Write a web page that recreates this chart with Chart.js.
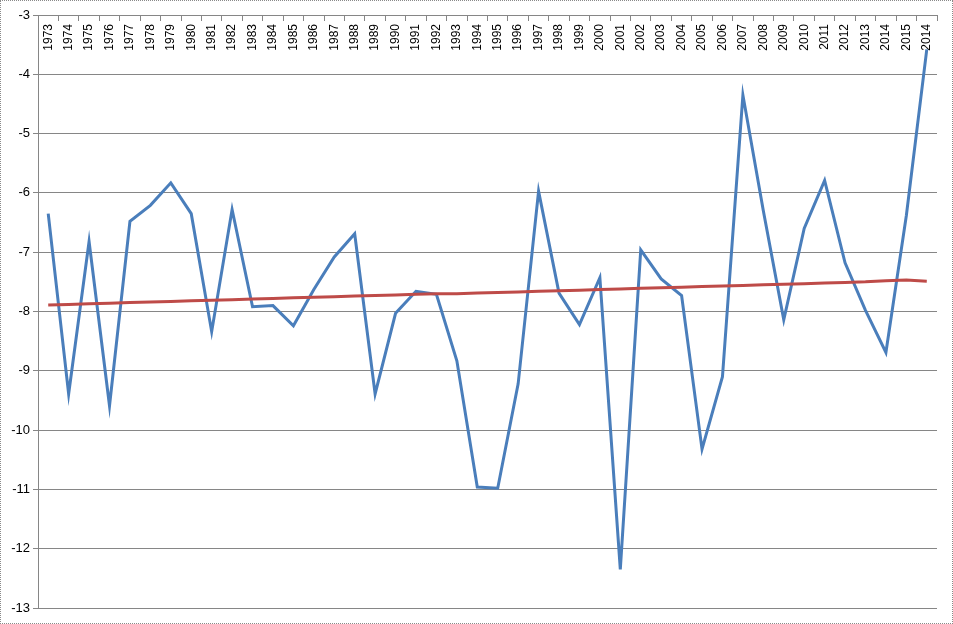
<!DOCTYPE html>
<html>
<head>
<meta charset="utf-8">
<script src="https://cdn.jsdelivr.net/npm/chart.js@4.4.0/dist/chart.umd.min.js"></script>
<style>
  html, body { margin: 0; padding: 0; background: #fff; }
  #wrap { width: 953px; height: 624px; box-sizing: border-box; border: 1px dotted #8a8a8a; position: relative; }
  #c { display: block; }
</style>
</head>
<body>
<div id="wrap"><canvas id="c" width="951" height="622"></canvas></div>
<script>
const categories = ['1973','1974','1975','1976','1977','1978','1979','1980','1981','1982',
  '1983','1984','1985','1986','1987','1988','1989','1990','1991','1992',
  '1993','1994','1995','1996','1997','1998','1999','2000','2001','2002',
  '2003','2004','2005','2006','2007','2008','2009','2010','2011','2012',
  '2013','2014','2015','2014'];

const seriesValues = [-6.35, -9.39, -6.82, -9.59, -6.48, -6.21, -5.83, -6.35, -8.34, -6.28,
  -7.92, -7.90, -8.24, -7.63, -7.08, -6.69, -9.39, -8.03, -7.66, -7.71,
  -8.83, -10.96, -10.98, -9.22, -5.97, -7.69, -8.22, -7.43, -12.35, -6.96,
  -7.45, -7.73, -10.32, -9.10, -4.35, -6.30, -8.14, -6.60, -5.79, -7.18,
  -7.98, -8.69, -6.38, -3.58];

const trendValues = [-7.89, -7.88, -7.87, -7.86, -7.85, -7.84, -7.83, -7.82, -7.81, -7.80,
  -7.79, -7.78, -7.77, -7.76, -7.75, -7.74, -7.73, -7.72, -7.71, -7.70,
  -7.70, -7.69, -7.68, -7.67, -7.66, -7.65, -7.64, -7.63, -7.62, -7.61,
  -7.60, -7.59, -7.58, -7.57, -7.56, -7.55, -7.54, -7.53, -7.52, -7.51,
  -7.50, -7.48, -7.47, -7.49];

const yTicks = [-3, -4, -5, -6, -7, -8, -9, -10, -11, -12, -13];

const gridColor = '#868686';

new Chart(document.getElementById('c'), {
  type: 'line',
  data: {
    labels: categories,
    datasets: [
      {
        data: trendValues,
        borderColor: '#BE4B48',
        borderWidth: 3,
        pointRadius: 0,
        tension: 0,
        order: 0
      },
      {
        data: seriesValues,
        borderColor: '#4A7EBB',
        borderWidth: 3,
        pointRadius: 0,
        tension: 0,
        order: 1
      }
    ]
  },
  options: {
    responsive: false,
    animation: false,
    devicePixelRatio: 1,
    layout: { padding: { left: 0, top: 14, right: 15, bottom: 15 } },
    plugins: { legend: { display: false }, tooltip: { enabled: false } },
    scales: {
      y: {
        min: yTicks[yTicks.length - 1],
        max: yTicks[0],
        afterBuildTicks: (s) => { s.ticks = yTicks.map(v => ({ value: v })); },
        afterFit: (s) => { s.width = 37; },
        border: { display: true, color: gridColor, width: 1 },
        grid: { color: gridColor, lineWidth: 1, tickLength: 5, drawTicks: true },
        ticks: {
          color: '#000',
          font: { family: 'Liberation Sans, Arial, sans-serif', size: 13 },
          padding: 3
        }
      },
      x: {
        type: 'category',
        position: { y: -3 },
        offset: true,
        border: { display: true, color: gridColor, width: 1 },
        grid: { offset: true, drawOnChartArea: false, drawTicks: true, tickLength: 5, color: gridColor },
        ticks: {
          autoSkip: false,
          minRotation: 90,
          maxRotation: 90,
          color: '#000',
          font: { family: 'Liberation Sans, Arial, sans-serif', size: 12 },
          padding: 4
        }
      }
    }
  }
});
</script>
</body>
</html>
